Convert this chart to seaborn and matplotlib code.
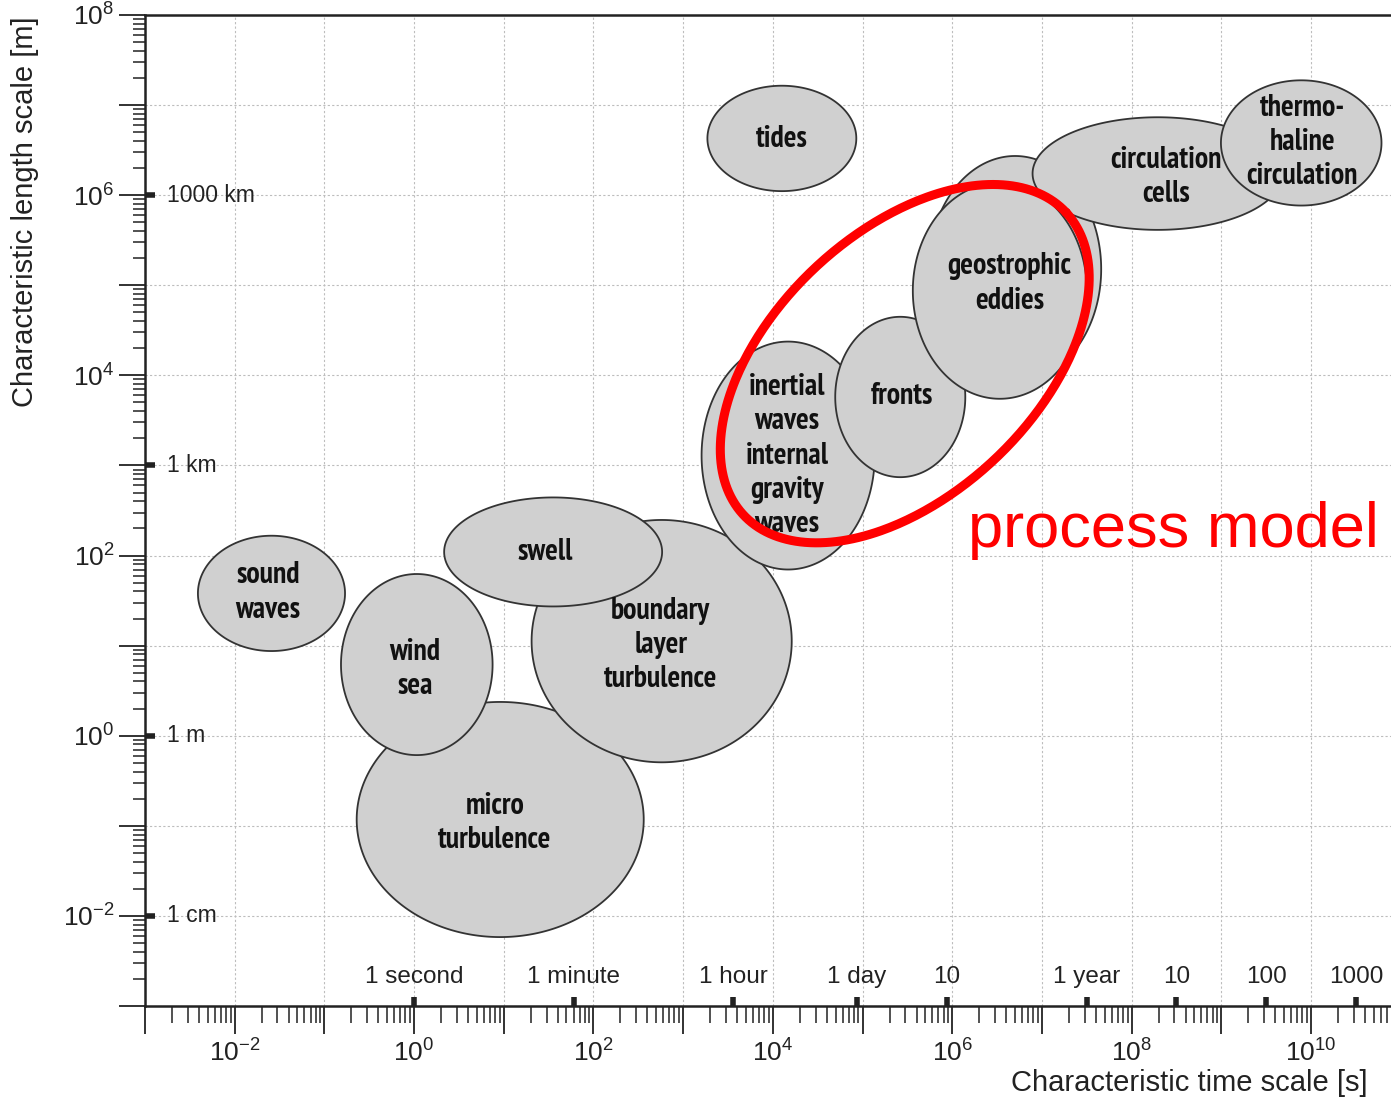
import numpy as np
import matplotlib
matplotlib.use("Agg")
import matplotlib.pyplot as plt
from matplotlib.ticker import FixedLocator, FuncFormatter, LogLocator
import seaborn as sns

# Oceanic processes: centre and extent of each region in log10 units
# (x: characteristic time scale [s], y: characteristic length scale [m])
region_labels = ["sound\nwaves", "micro\nturbulence", "boundary\nlayer\nturbulence",
                 "wind\nsea", "swell", "inertial\nwaves\ninternal\ngravity\nwaves",
                 "fronts", "", "geostrophic\neddies", "tides",
                 "circulation\ncells", "thermo-\nhaline\ncirculation"]
centre_logt = [-1.59, 0.96, 2.76, 0.03, 1.55, 4.17, 5.42, 6.70, 6.53, 4.10, 8.29, 9.89]
centre_logl = [1.58, -0.93, 1.05, 0.79, 2.04, 3.11, 3.76, 5.18, 4.94, 6.63, 6.24, 6.58]
width_dec = [1.64, 3.20, 2.90, 1.69, 2.43, 1.93, 1.45, 1.92, 1.94, 1.66, 2.79, 1.79]
height_dec = [1.28, 2.61, 2.69, 2.01, 1.21, 2.53, 1.78, 2.51, 2.40, 1.17, 1.25, 1.39]
label_logt = [-1.63, 0.90, 2.75, 0.01, 1.46, 4.16, 5.44, np.nan, 6.64, 4.10, 8.38, 9.90]
label_logl = [1.59, -0.97, 1.01, 0.74, 2.04, 3.11, 3.77, np.nan, 5.02, 6.62, 6.20, 6.59]

# Scope of the process model (rotated ellipse, log10 units)
process_centre = (5.47, 4.13)
process_semi_axes = (2.46, 1.46)
process_angle_deg = 43.0

# Named time and length marks
time_marks_s = [1, 60, 3600, 86400, 864000, 3.15576e7, 3.15576e8, 3.15576e9, 3.15576e10]
time_mark_labels = ["1 second", "1 minute", "1 hour", "1 day", "10",
                    "1 year", "10", "100", "1000"]
length_marks_m = [1e6, 1e3, 1.0, 1e-2]
length_mark_labels = ["1000 km", "1 km", "1 m", "1 cm"]

sns.set_theme(style="white")
plt.rcParams["font.family"] = ["Liberation Sans", "DejaVu Sans"]
plt.rcParams["mathtext.fontset"] = "custom"
plt.rcParams["mathtext.rm"] = "Liberation Sans"

ink = "#222222"
fig = plt.figure(figsize=(13.91, 10.98), dpi=100)
ax = fig.add_axes([145 / 1391, 92 / 1098, 1246 / 1391, 991 / 1098])
ax.set_xscale("log")
ax.set_yscale("log")
ax.set_xlim(1e-3, 10 ** 10.891)
ax.set_ylim(1e-3, 1e8)

# regions
t = np.linspace(0, 2 * np.pi, 400)
for i, lab in enumerate(region_labels):
    lx = centre_logt[i] + 0.5 * width_dec[i] * np.cos(t)
    ly = centre_logl[i] + 0.5 * height_dec[i] * np.sin(t)
    ax.fill(10 ** lx, 10 ** ly, facecolor="#d0d0d0", edgecolor="#333333",
            linewidth=1.3, zorder=3 + i)
for i, lab in enumerate(region_labels):
    if lab:
        ax.text(10 ** label_logt[i], 10 ** label_logl[i], lab, ha="center", va="center",
                family=["PT Sans Narrow", "DejaVu Sans"],
                fontweight="bold", fontsize=21.5, linespacing=1.28, color="#111111",
                zorder=30)

# process-model outline
th = np.deg2rad(process_angle_deg)
a, b = process_semi_axes
px = process_centre[0] + a * np.cos(t) * np.cos(th) - b * np.sin(t) * np.sin(th)
py = process_centre[1] + a * np.cos(t) * np.sin(th) + b * np.sin(t) * np.cos(th)
sns.lineplot(x=10 ** px, y=10 ** py, sort=False, estimator=None, color="#ff0000",
             linewidth=6.5, ax=ax, zorder=40)
ax.text(10 ** 6.17, 10 ** 2.10, "process model",
        color="#ff0000", fontsize=45.5, ha="left", va="baseline", zorder=41)

# axes, ticks and grid
ax.xaxis.set_major_locator(FixedLocator(10.0 ** np.arange(-3, 11)))
ax.yaxis.set_major_locator(FixedLocator(10.0 ** np.arange(-3, 9)))
ax.xaxis.set_minor_locator(LogLocator(base=10, subs=np.arange(2, 10), numticks=100))
ax.yaxis.set_minor_locator(LogLocator(base=10, subs=np.arange(2, 10), numticks=100))


def even_decade(v, pos):
    e = int(round(np.log10(v)))
    return r"$\mathdefault{10^{%d}}$" % e if e % 2 == 0 else ""


ax.xaxis.set_major_formatter(FuncFormatter(even_decade))
ax.yaxis.set_major_formatter(FuncFormatter(even_decade))
ax.tick_params(axis="x", which="major", direction="out", length=20, width=1.3,
               color=ink, pad=4, labelsize=19, labelcolor=ink, bottom=True)
ax.tick_params(axis="x", which="minor", direction="out", length=12, width=1.1,
               color=ink, bottom=True)
ax.tick_params(axis="y", which="major", direction="out", length=19, width=1.3,
               color=ink, pad=3, labelsize=19, labelcolor=ink, left=True)
ax.tick_params(axis="y", which="minor", direction="out", length=9, width=1.1,
               color=ink, left=True)
ax.grid(True, which="major", linestyle=(0, (2, 2)), color="#bdbdbd", linewidth=0.8)
ax.set_axisbelow(True)
for side in ["left", "bottom", "top"]:
    ax.spines[side].set_visible(True)
    ax.spines[side].set_color(ink)
    ax.spines[side].set_linewidth(1.8)
ax.spines["right"].set_visible(False)

# named time marks above the time axis
xt = ax.get_xaxis_transform()
for v, lab in zip(time_marks_s, time_mark_labels):
    ax.plot([v, v], [0, 9.5 / 991], transform=xt, color=ink, linewidth=4,
            solid_capstyle="butt", clip_on=False, zorder=50)
    ax.annotate(lab, xy=(v, 0), xycoords=xt, xytext=(0, 16.5), textcoords="offset points",
                ha="center", va="baseline", fontsize=17.5, color=ink)

# named length marks right of the length axis
yt = ax.get_yaxis_transform()
for v, lab in zip(length_marks_m, length_mark_labels):
    ax.plot([0, 10 / 1246], [v, v], transform=yt, color=ink, linewidth=4,
            solid_capstyle="butt", clip_on=False, zorder=50)
    ax.annotate(lab, xy=(0, v), xycoords=yt, xytext=(16, 0), textcoords="offset points",
                ha="left", va="center", fontsize=16.5, color=ink)

ax.set_xlabel("")
ax.set_ylabel("")
ax.text(-0.0963, 0.802, "Characteristic length scale [m]", transform=ax.transAxes,
        rotation=90, rotation_mode="anchor", ha="center", va="center",
        fontsize=21, color=ink)
ax.text(0.838, -0.0777, "Characteristic time scale [s]", transform=ax.transAxes,
        ha="center", va="center", fontsize=21, color=ink)

fig.savefig("out.png", dpi=100)
